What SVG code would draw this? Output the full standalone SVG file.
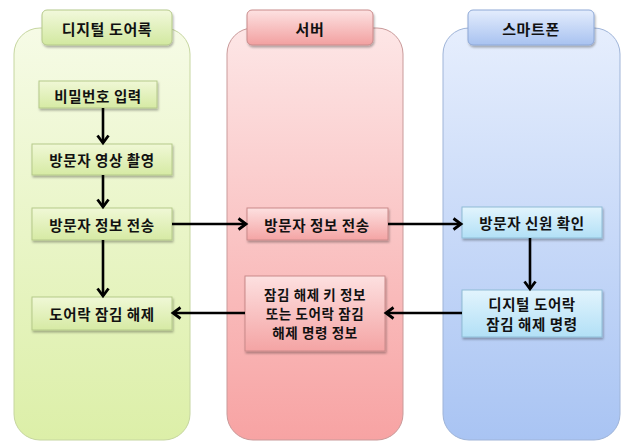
<svg xmlns="http://www.w3.org/2000/svg" width="623" height="443" viewBox="0 0 623 443">
<defs>
  <linearGradient id="gLane" x1="0" y1="0" x2="0" y2="1"><stop offset="0" stop-color="#f6fbe6"/><stop offset="1" stop-color="#dcefa8"/></linearGradient>
  <linearGradient id="rLane" x1="0" y1="0" x2="0" y2="1"><stop offset="0" stop-color="#fde6e6"/><stop offset="1" stop-color="#f7a3a3"/></linearGradient>
  <linearGradient id="bLane" x1="0" y1="0" x2="0" y2="1"><stop offset="0" stop-color="#e6eefd"/><stop offset="1" stop-color="#a9c4f3"/></linearGradient>
  <linearGradient id="gBox" x1="0" y1="0" x2="0" y2="1"><stop offset="0" stop-color="#f0f8d6"/><stop offset="1" stop-color="#d6eaa4"/></linearGradient>
  <linearGradient id="rBox" x1="0" y1="0" x2="0" y2="1"><stop offset="0" stop-color="#fde0e0"/><stop offset="1" stop-color="#f4a4a4"/></linearGradient>
  <linearGradient id="cBox" x1="0" y1="0" x2="0" y2="1"><stop offset="0" stop-color="#e2f4fd"/><stop offset="1" stop-color="#b2e0f6"/></linearGradient>
  <linearGradient id="gHead" x1="0" y1="0" x2="0" y2="1"><stop offset="0" stop-color="#f2f9dc"/><stop offset="1" stop-color="#d2e8a0"/></linearGradient>
  <linearGradient id="rHead" x1="0" y1="0" x2="0" y2="1"><stop offset="0" stop-color="#fde2e2"/><stop offset="1" stop-color="#f2a0a0"/></linearGradient>
  <linearGradient id="bHead" x1="0" y1="0" x2="0" y2="1"><stop offset="0" stop-color="#e4edfd"/><stop offset="1" stop-color="#a8c2f0"/></linearGradient>
  <filter id="sh" x="-10%" y="-10%" width="130%" height="140%"><feDropShadow dx="1" dy="2" stdDeviation="1.2" flood-color="#000" flood-opacity="0.3"/></filter>
  <marker id="arr" markerWidth="14" markerHeight="14" refX="10" refY="7" orient="auto" markerUnits="userSpaceOnUse">
    <polyline points="2.5,1.5 10,7 2.5,12.5" fill="none" stroke="#000" stroke-width="2.8" stroke-linejoin="miter"/>
  </marker>
</defs>
<style>
  text{font-family:"Noto Sans CJK KR","Noto Sans",sans-serif;font-size:14.5px;font-weight:bold;letter-spacing:0.6px;fill:#111;text-anchor:middle;dominant-baseline:central}
  .hd{font-size:15px}
  .ml{font-size:13.5px}
  .lane{stroke-width:1}
  .box{stroke-width:1;filter:url(#sh)}
  .g{fill:url(#gBox);stroke:#b5c98a}
  .r{fill:url(#rBox);stroke:#c98a8a}
  .c{fill:url(#cBox);stroke:#8fbcd6}
  .conn line{stroke:#000;stroke-width:2.6;marker-end:url(#arr)}
</style>

<g id="lane-doorlock">
  <rect class="lane" x="14" y="28" width="176" height="412" rx="26" fill="url(#gLane)" stroke="#c6d6a0"/>
  <rect x="42" y="10" width="130" height="35" rx="5" fill="url(#gHead)" stroke="#b5c98a" filter="url(#sh)"/>
  <text class="hd" x="107" y="28">디지털 도어록</text>
</g>
<g id="lane-server">
  <rect class="lane" x="227" y="28" width="176" height="412" rx="26" fill="url(#rLane)" stroke="#c99a9a"/>
  <rect x="247" y="10" width="126" height="35" rx="5" fill="url(#rHead)" stroke="#c98a8a" filter="url(#sh)"/>
  <text class="hd" x="310" y="28">서버</text>
</g>
<g id="lane-phone">
  <rect class="lane" x="443" y="28" width="177" height="412" rx="26" fill="url(#bLane)" stroke="#9fb4d8"/>
  <rect x="468" y="10" width="126" height="35" rx="5" fill="url(#bHead)" stroke="#8ea8d6" filter="url(#sh)"/>
  <text class="hd" x="531" y="28">스마트폰</text>
</g>

<g id="n-password">
  <rect class="box g" x="39" y="81" width="118" height="27"/>
  <text x="98" y="95">비밀번호 입력</text>
</g>
<g id="n-video">
  <rect class="box g" x="32" y="144" width="140" height="31"/>
  <text x="102" y="159">방문자 영상 촬영</text>
</g>
<g id="n-send1">
  <rect class="box g" x="32" y="208" width="140" height="32"/>
  <text x="102" y="224">방문자 정보 전송</text>
</g>
<g id="n-unlock">
  <rect class="box g" x="32" y="297" width="140" height="33"/>
  <text x="102" y="313">도어락 잠김 해제</text>
</g>
<g id="n-send2">
  <rect class="box r" x="247" y="208" width="141" height="32"/>
  <text x="317" y="224">방문자 정보 전송</text>
</g>
<g id="n-keyinfo">
  <rect class="box r" x="245" y="276" width="140" height="75"/>
  <text class="ml" x="315" y="294">잠김 해제 키 정보</text>
  <text class="ml" x="315" y="313">또는 도어락 잠김</text>
  <text class="ml" x="315" y="332">해제  명령 정보</text>
</g>
<g id="n-verify">
  <rect class="box c" x="462" y="207" width="140" height="31"/>
  <text x="532" y="222">방문자 신원 확인</text>
</g>
<g id="n-command">
  <rect class="box c" x="462" y="290" width="140" height="47"/>
  <text x="532" y="303">디지털 도어락</text>
  <text x="532" y="323">잠김 해제 명령</text>
</g>

<g id="connectors" class="conn">
  <line x1="103" y1="108" x2="103" y2="143"/>
  <line x1="103" y1="175" x2="103" y2="207"/>
  <line x1="103" y1="240" x2="103" y2="296"/>
  <line x1="172" y1="224" x2="246" y2="224"/>
  <line x1="388" y1="224" x2="461" y2="224"/>
  <line x1="530" y1="238" x2="530" y2="289"/>
  <line x1="462" y1="313" x2="386" y2="313"/>
  <line x1="245" y1="313" x2="173" y2="313"/>
</g>
</svg>
